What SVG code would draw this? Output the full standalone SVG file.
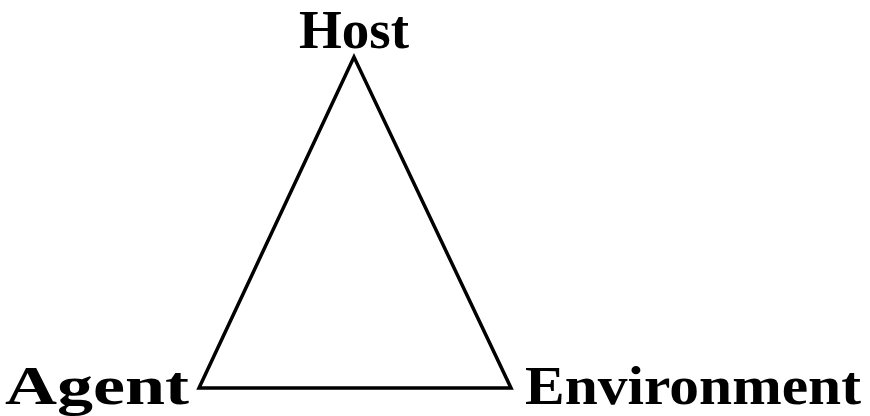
<svg xmlns="http://www.w3.org/2000/svg" width="870" height="416" viewBox="0 0 870 416">
<style>
.lbl{font-family:"Liberation Serif","Times New Roman",serif;font-weight:bold;font-size:55px;fill:#000}
.edge{stroke:#000;stroke-width:3.5;fill:none;stroke-linejoin:miter}
</style>
<rect width="870" height="416" fill="#fff"/>
<g id="connectors">
<path class="edge" d="M354,57 L199,388 L511,388 Z"/>
</g>
<g id="host"><text class="lbl" x="354" y="48" text-anchor="middle" textLength="110" lengthAdjust="spacingAndGlyphs">Host</text></g>
<g id="agent"><text class="lbl" x="5" y="404" textLength="184" lengthAdjust="spacingAndGlyphs">Agent</text></g>
<g id="environment"><text class="lbl" x="525" y="404" textLength="336" lengthAdjust="spacingAndGlyphs">Environment</text></g>
</svg>
